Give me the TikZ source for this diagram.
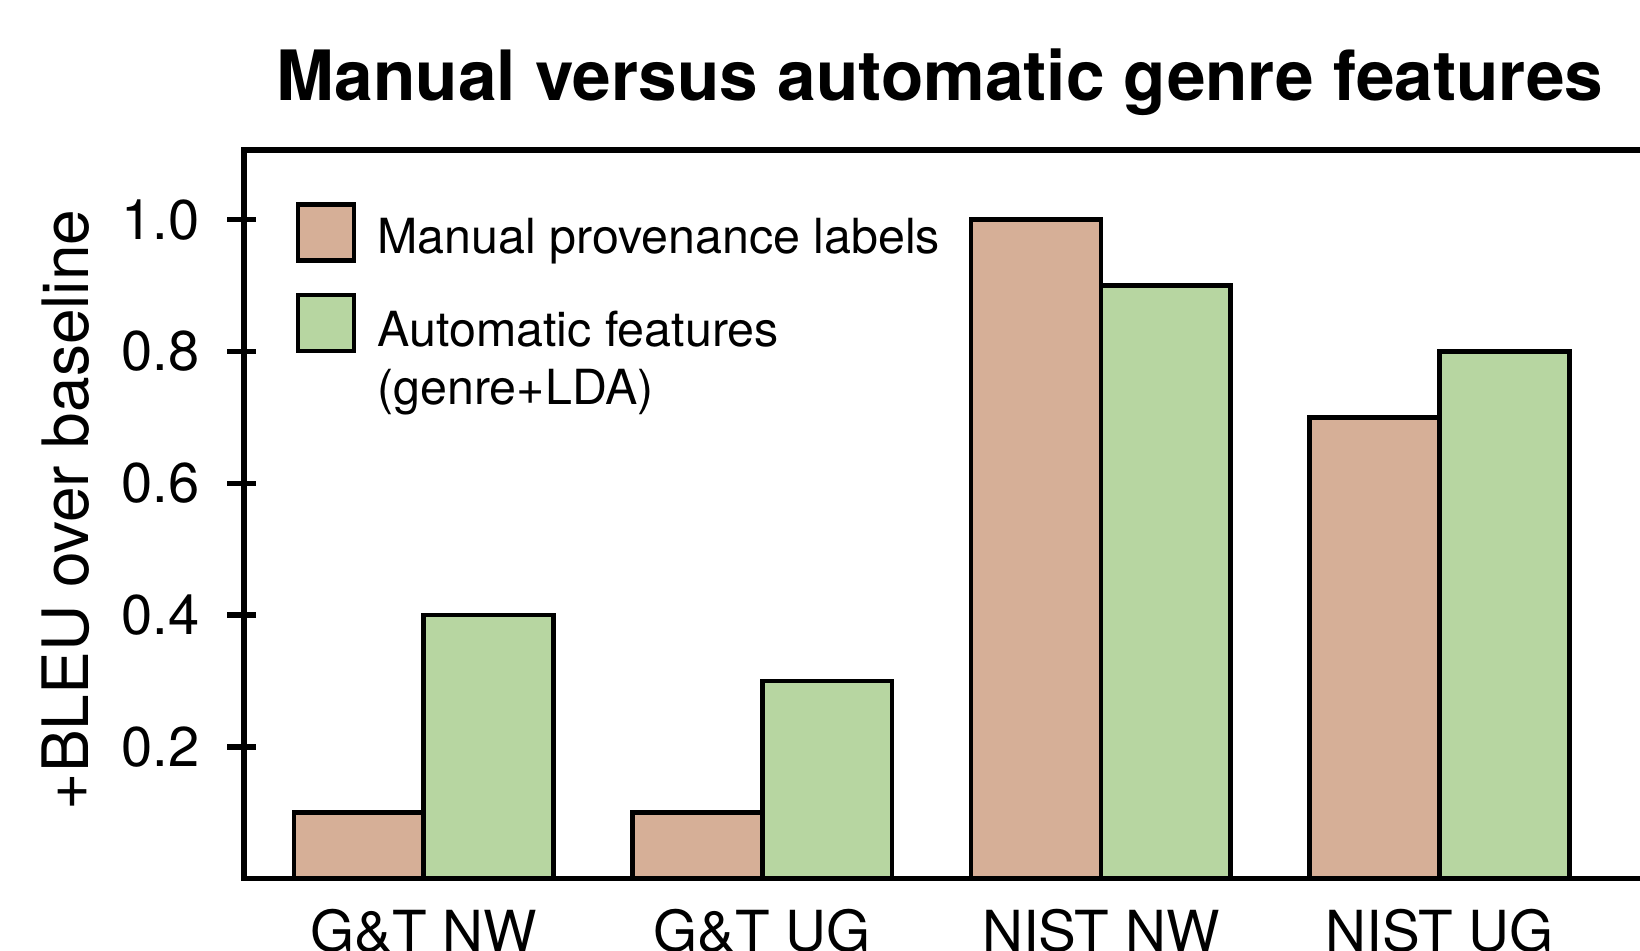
\documentclass[tikz,border=0pt]{standalone}
\usepackage{fontspec}
\setmainfont{TeX Gyre Heros}
\usetikzlibrary{positioning}
\definecolor{manualc}{HTML}{D6AF97}
\definecolor{autoc}{HTML}{B7D6A1}
\tikzset{
  x=0.5pt, y=-0.5pt,
  frame/.style={line width=2.7pt},
  bar/.style={draw, line width=2.3pt},
  ticklab/.style={anchor=east, inner sep=0pt, font=\fontsize{28}{30}\selectfont},
  catlab/.style={anchor=base, inner sep=0pt, font=\fontsize{28.3}{30}\selectfont},
  leglab/.style={anchor=base west, inner sep=0pt, font=\fontsize{24.2}{29}\selectfont},
  legbox/.style={draw, line width=2.3pt, minimum size=28pt, inner sep=0pt}
}

\begin{document}
\begin{tikzpicture}
  \useasboundingbox (0,0) rectangle (1640,951);
  \clip (0,0) rectangle (1640,951);

  % title and axis label
  \node[anchor=base, inner sep=0pt, font=\bfseries\fontsize{34.7}{40}\selectfont] (title) at (940,101) {Manual versus automatic genre features};
  \node[rotate=90, inner sep=0pt, font=\fontsize{32}{36}\selectfont] (ylab) at (66,510) {+BLEU over baseline};

  % frame
  \coordinate (tl) at (244,150);
  \coordinate (bl) at (244,878.7);
  \draw[frame] (1650,150) -- (tl) -- (bl) -- (1650,878.7);

  % ticks
  \foreach \v in {0.2,0.4,0.6,0.8,1.0} {
    \pgfmathsetmacro{\ty}{878.7-\v*659}
    \draw[frame] (227,\ty) -- (256,\ty);
    \node[ticklab] (tick\v) at (200,\ty) {\v};
  }

  % bars
  \foreach \g/\m/\a/\lab in {0/0.1/0.4/G\&T NW, 1/0.1/0.3/G\&T UG, 2/1.0/0.9/NIST NW, 3/0.7/0.8/NIST UG} {
    \pgfmathsetmacro{\xl}{293.9+\g*338.6}
    \pgfmathsetmacro{\xm}{\xl+129.8}
    \pgfmathsetmacro{\xr}{\xl+259.6}
    \pgfmathsetmacro{\ym}{878.7-\m*659}
    \pgfmathsetmacro{\ya}{878.7-\a*659}
    \draw[bar, fill=manualc] (\xl,878.7) rectangle (\xm,\ym);
    \draw[bar, fill=autoc] (\xm,878.7) rectangle (\xr,\ya);
    \node[catlab] (cat\g) at (\xm,951) {\lab};
  }

  % legend
  \node[legbox, fill=manualc] (box1) at (326,232.5) {};
  \node[legbox, fill=autoc] (box2) at (326,323) {};
  \node[leglab] (leg1) at (377,254) {Manual provenance labels};
  \node[leglab] (leg2) at (377,347) {Automatic features};
  \node[leglab] (leg3) at (377,405) {(genre+LDA)};
\end{tikzpicture}
\end{document}
